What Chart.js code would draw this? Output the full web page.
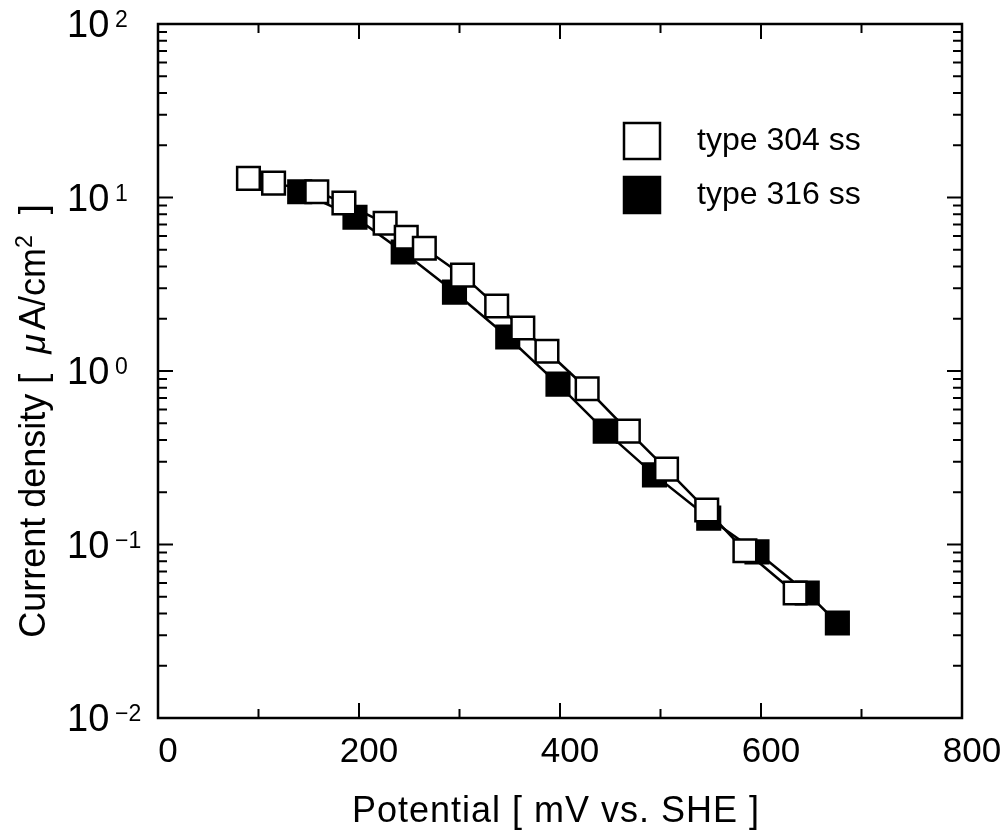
<!DOCTYPE html>
<html>
<head>
<meta charset="utf-8">
<script src="https://cdn.jsdelivr.net/npm/chart.js@4/dist/chart.umd.min.js"></script>
<style>
  html, body { margin: 0; padding: 0; background: #fff; }
  #wrap { width: 1005px; height: 837px; }
</style>
</head>
<body>
<div id="wrap"><canvas id="chart" width="1005" height="837"></canvas></div>
<script>
// ===== Data =====
const pot304 = [90, 115, 158, 185, 226, 247, 265, 303, 337, 363, 387, 427, 468, 506, 546, 584, 634];
const cd304  = [12.9, 12.1, 10.8, 9.3, 7.1, 5.9, 5.1, 3.57, 2.37, 1.77, 1.30, 0.79, 0.45, 0.272, 0.158, 0.092, 0.0525];

const pot316 = [141, 196, 244, 295, 348, 398, 445, 494, 548, 596, 646, 676];
const cd316  = [10.8, 7.7, 4.85, 2.85, 1.57, 0.84, 0.45, 0.252, 0.142, 0.0906, 0.0525, 0.0353];

const xTicks = [0, 200, 400, 600, 800];
const xMinor = [100, 300, 500, 700];
const yExps = [-2, -1, 0, 1, 2];
const yExpLabels = ['\u22122', '\u22121', '0', '1', '2'];

const seriesNames = ['type 304 ss', 'type 316 ss'];

const FONT = '"Liberation Sans", Arial, sans-serif';

const toXY = (xs, ys) => xs.map((x, i) => ({ x: x, y: ys[i] }));

// draws a run of text pieces one after another (for the superscript in the y title)
function drawRun(ctx, parts, x, y) {
    let cx = x;
    parts.forEach(p => {
        ctx.font = p.font;
        ctx.fillText(p.text, cx, y + (p.dy || 0));
        cx += ctx.measureText(p.text).width + (p.gap || 0);
    });
}
function runWidth(ctx, parts) {
    return parts.reduce((s, p) => { ctx.font = p.font; return s + ctx.measureText(p.text).width + (p.gap || 0); }, 0);
}

// ===== Frame, ticks, labels and legend =====
const framePlugin = {
    id: 'framePlugin',
    afterDatasetsDraw(chart) {
        const ctx = chart.ctx;
        const a = chart.chartArea;
        const xs = chart.scales.x;
        const ys = chart.scales.y;

        ctx.save();
        ctx.strokeStyle = '#000';
        ctx.lineWidth = 2.5;
        ctx.strokeRect(a.left, a.top, a.right - a.left, a.bottom - a.top);

        // x ticks, bottom and top, pointing inward
        ctx.lineWidth = 2;
        ctx.beginPath();
        xTicks.forEach(v => {
            const px = xs.getPixelForValue(v);
            ctx.moveTo(px, a.bottom); ctx.lineTo(px, a.bottom - 15);
            ctx.moveTo(px, a.top); ctx.lineTo(px, a.top + 15);
        });
        xMinor.forEach(v => {
            const px = xs.getPixelForValue(v);
            ctx.moveTo(px, a.bottom); ctx.lineTo(px, a.bottom - 9);
            ctx.moveTo(px, a.top); ctx.lineTo(px, a.top + 9);
        });
        // y ticks, left and right
        yExps.forEach((e, i) => {
            const py = ys.getPixelForValue(Math.pow(10, e));
            ctx.moveTo(a.left, py); ctx.lineTo(a.left + 15, py);
            ctx.moveTo(a.right, py); ctx.lineTo(a.right - 15, py);
            if (i < yExps.length - 1) {
                for (let m = 2; m <= 9; m++) {
                    const pm = ys.getPixelForValue(m * Math.pow(10, e));
                    ctx.moveTo(a.left, pm); ctx.lineTo(a.left + 9, pm);
                    ctx.moveTo(a.right, pm); ctx.lineTo(a.right - 9, pm);
                }
            }
        });
        ctx.stroke();

        ctx.fillStyle = '#000';

        // x tick labels
        ctx.font = '35px ' + FONT;
        ctx.textAlign = 'center';
        ctx.textBaseline = 'middle';
        xTicks.forEach(v => {
            ctx.fillText(String(v), xs.getPixelForValue(v) + 10, a.bottom + 34);
        });

        // y tick labels as 10 with superscript
        ctx.textAlign = 'left';
        ctx.textBaseline = 'alphabetic';
        yExps.forEach((e, i) => {
            const py = ys.getPixelForValue(Math.pow(10, e));
            ctx.font = '38px ' + FONT;
            ctx.fillText('10', 67, py + 13);
            ctx.font = '23px ' + FONT;
            ctx.fillText(yExpLabels[i], 115, py + 3);
        });

        // x title
        ctx.font = '36px ' + FONT;
        ctx.letterSpacing = '1px';
        ctx.textAlign = 'center';
        ctx.textBaseline = 'middle';
        ctx.fillText('Potential [ mV vs. SHE ]', 556, 812);
        ctx.letterSpacing = '0px';

        // y title, rotated, with superscript 2
        ctx.save();
        ctx.translate(33, 421);
        ctx.rotate(-Math.PI / 2);
        ctx.textAlign = 'left';
        ctx.textBaseline = 'alphabetic';
        const big = '36px ' + FONT;
        const parts = [
            { text: 'Current density [  ', font: big },
            { text: '\u03bc', font: 'italic ' + big, gap: 4 },
            { text: 'A/cm', font: big },
            { text: '2', font: '23px ' + FONT, dy: -13, gap: 1 },
            { text: '  ]', font: big }
        ];
        drawRun(ctx, parts, -runWidth(ctx, parts) / 2, 12);
        ctx.restore();

        // legend
        const rows = [
            { y: 141, fill: '#fff', text: seriesNames[0] },
            { y: 195, fill: '#000', text: seriesNames[1] }
        ];
        rows.forEach(r => {
            ctx.fillStyle = r.fill;
            ctx.fillRect(624, r.y - 18, 36, 36);
            ctx.lineWidth = 2.5;
            ctx.strokeRect(624, r.y - 18, 36, 36);
            ctx.fillStyle = '#000';
            ctx.font = '32px ' + FONT;
            ctx.textAlign = 'left';
            ctx.textBaseline = 'middle';
            ctx.fillText(r.text, 697, r.y);
        });
        ctx.restore();
    }
};

new Chart(document.getElementById('chart').getContext('2d'), {
    type: 'line',
    data: {
        datasets: [
            {
                label: seriesNames[0],
                data: toXY(pot304, cd304),
                borderColor: '#000',
                borderWidth: 2.5,
                backgroundColor: '#fff',
                pointStyle: 'rect',
                pointRadius: 16,
                pointBorderWidth: 2.5,
                pointBackgroundColor: '#fff',
                pointBorderColor: '#000',
                tension: 0,
                fill: false
            },
            {
                label: seriesNames[1],
                data: toXY(pot316, cd316),
                borderColor: '#000',
                borderWidth: 2.5,
                backgroundColor: '#000',
                pointStyle: 'rect',
                pointRadius: 16,
                pointBorderWidth: 2.5,
                pointBackgroundColor: '#000',
                pointBorderColor: '#000',
                tension: 0,
                fill: false
            }
        ]
    },
    options: {
        responsive: false,
        animation: false,
        layout: { padding: { left: 158, top: 24, right: 43, bottom: 119 } },
        plugins: { legend: { display: false }, tooltip: { enabled: false } },
        scales: {
            x: { type: 'linear', min: 0, max: 800, display: false },
            y: { type: 'logarithmic', min: 0.01, max: 100, display: false }
        }
    },
    plugins: [framePlugin]
});
</script>
</body>
</html>
